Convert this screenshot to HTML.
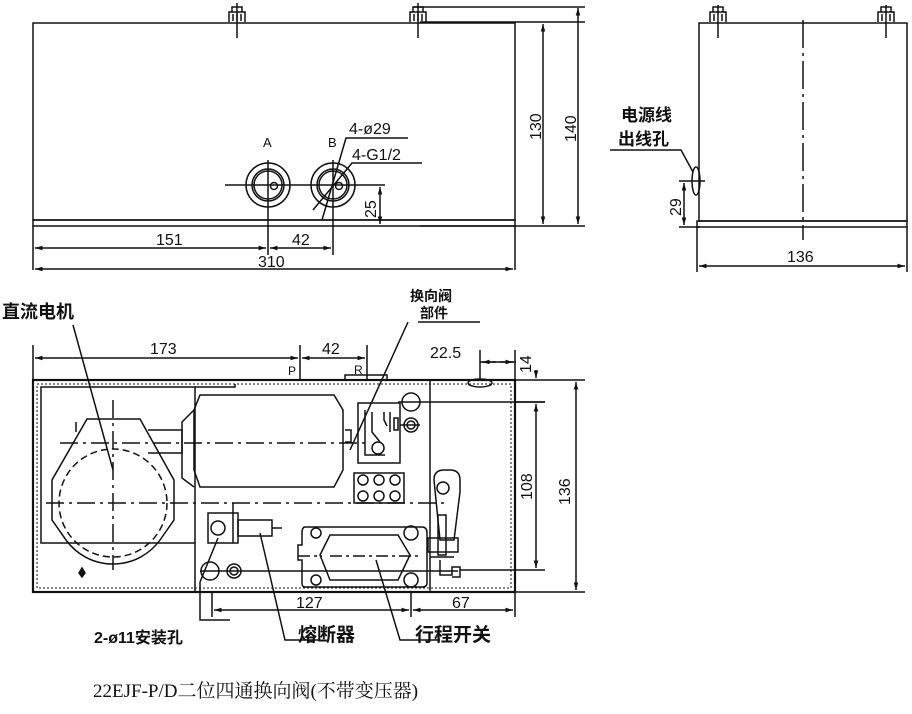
<!DOCTYPE html>
<html><head><meta charset="utf-8"><style>
html,body{margin:0;padding:0;background:#fff;}
svg{display:block}
text{font-family:"Liberation Sans","Noto Sans CJK SC",sans-serif;fill:#111}
</style></head><body>
<svg width="912" height="714" viewBox="0 0 912 714" xmlns="http://www.w3.org/2000/svg">
<defs>
<marker id="a" viewBox="0 0 10 10" refX="10" refY="5" markerWidth="7" markerHeight="5" orient="auto-start-reverse"><path d="M0,2 L10,5 L0,8z" fill="#111"/></marker>
</defs>
<g stroke="#111" stroke-width="1.5" fill="none">
<!-- TOP VIEW -->
<rect x="33" y="23" width="482" height="197"/>
<rect x="33" y="220" width="482" height="6"/>
<path d="M229,22 v-10 h16 v10 M232,12 v-5 h10 v5 M233,14 v7 M237,14 v7 M241,14 v7"/>
<path d="M410,22 v-10 h16 v10 M413,12 v-5 h10 v5 M414,14 v7 M418,14 v7 M422,14 v7"/>
<path d="M237,3 v35 M418,3 v35"/>
<circle cx="268" cy="185" r="22"/><circle cx="268" cy="185" r="16"/><circle cx="268" cy="185" r="14"/><circle cx="274" cy="186" r="3.5"/>
<circle cx="333" cy="185" r="22"/><circle cx="333" cy="185" r="16"/><circle cx="333" cy="185" r="14"/><circle cx="339" cy="186" r="3.5"/>
<path d="M225,185 H385 M268,160 V255 M333,160 V255"/>
<path d="M322,220 L346,138 H408 M313,210 L352,163 H422"/>
<path d="M33,226 v44 M515,226 v44 M420,226 h165 M420,22 h165 M515,22 h30"/>
<line x1="380" y1="187" x2="380" y2="224" marker-start="url(#a)" marker-end="url(#a)"/>
<line x1="543" y1="24" x2="543" y2="224" marker-start="url(#a)" marker-end="url(#a)"/>
<line x1="578" y1="8" x2="578" y2="224" marker-start="url(#a)" marker-end="url(#a)"/>
<path d="M413,7 H585"/>
<line x1="35" y1="248" x2="266" y2="248" marker-start="url(#a)" marker-end="url(#a)"/>
<line x1="270" y1="248" x2="331" y2="248" marker-start="url(#a)" marker-end="url(#a)"/>
<line x1="35" y1="269" x2="513" y2="269" marker-start="url(#a)" marker-end="url(#a)"/>
<!-- SIDE VIEW -->
<rect x="699" y="23" width="208" height="198"/>
<rect x="697" y="221" width="210" height="6"/>
<path d="M710,22 v-10 h16 v10 M713,12 v-5 h10 v5 M714,14 v7 M718,14 v7 M722,14 v7 M718,5 v33"/>
<path d="M878,22 v-10 h16 v10 M881,12 v-5 h10 v5 M882,14 v7 M886,14 v7 M890,14 v7 M886,5 v33"/>
<path d="M803,20 V240" stroke-dasharray="28,5,3,5"/>
<ellipse cx="696" cy="181" rx="4" ry="14"/>
<path d="M610,150 H681 L693,172 M679,181 H705 M679,227 H700 M697,227 v45 M907,227 v45"/>
<line x1="684" y1="183" x2="684" y2="225" marker-start="url(#a)" marker-end="url(#a)"/>
<line x1="699" y1="266" x2="905" y2="266" marker-start="url(#a)" marker-end="url(#a)"/>
<!-- BOTTOM VIEW -->
<rect x="33" y="380" width="482" height="212" stroke-width="2.2"/>
<rect x="37" y="384" width="474" height="204" stroke-width="1" stroke-dasharray="2,2"/>
<rect x="41" y="387" width="154" height="156"/>
<path d="M195,387 h40 v-3"/>
<path d="M345,380 v-5 h42 v5"/>
<path d="M200,395 H334 L343,410 V470 L334,487 H200 L194,470 V410Z"/>
<path d="M194,410 L182,422 V478 L194,487"/>
<path d="M148,430 h34 v23 h-34"/>
<path d="M76,422 V432 M87,419 H140 L174,480 V520 L160,540 A58 58 0 0 1 66,540 L52,520 V480 Z"/>
<circle cx="113" cy="503" r="54" stroke-dasharray="7,4"/>
<path d="M113,400 V570 M60,443 H367 M46,503 H448" stroke-dasharray="18,5,3,5"/>
<path d="M345,430 h6 v12 h-6"/>
<rect x="358" y="403" width="42" height="60"/>
<path d="M365,410 v45 h20 M372,412 v20 l8,10 M384,412 v8 l3,6 M390,412 v20"/>
<circle cx="378" cy="448" r="6"/>
<rect x="394" y="418" width="4" height="12"/>
<rect x="354" y="473" width="50" height="30"/>
<circle cx="363" cy="480" r="5"/><circle cx="379" cy="480" r="5"/><circle cx="395" cy="480" r="5"/>
<circle cx="363" cy="496" r="5"/><circle cx="379" cy="496" r="5"/><circle cx="395" cy="496" r="5"/>
<circle cx="411" cy="402" r="9"/><circle cx="411" cy="425" r="7"/><circle cx="411" cy="425" r="4"/>
<path d="M398,402 H545 M430,380 V592 M400,425 h20"/>
<path d="M195,543 V592 M233,503 V543"/>
<rect x="208" y="513" width="30" height="30"/>
<rect x="238" y="520" width="34" height="16"/>
<circle cx="218" cy="528" r="7"/>
<path d="M272,528 h10"/>
<path d="M305,527 H422 Q427,527 427,533 V583 Q427,587 422,587 H305 Q302,587 302,583 V560 H298 V545 H302 V533 Q302,527 305,527Z"/>
<path d="M330,535 H398 L410,555 L398,580 H330 L320,555Z"/>
<circle cx="316" cy="533" r="5"/><circle cx="316" cy="580" r="5"/>
<circle cx="411" cy="533" r="7"/><circle cx="411" cy="580" r="7"/>
<path d="M330,556 H420 M298,556 H322" stroke-dasharray="12,4,3,4"/>
<path d="M434,480 q0,-10 10,-10 h6 q10,0 10,10 v12 l-6,48 h-14z"/>
<circle cx="443" cy="488" r="6"/>
<rect x="428" y="538" width="30" height="14"/>
<rect x="438" y="515" width="8" height="40"/>
<path d="M430,557 h24 M440,560 v15 h12 v-8 h8 v10 h-8"/>
<circle cx="210" cy="571" r="9"/><circle cx="234" cy="571" r="7"/><circle cx="234" cy="571" r="4"/>
<path d="M200,571 H458"/>
<path d="M200,582 V620 H230 M218,538 L200,582"/>
<path d="M260,533 L285,640 H320"/>
<path d="M376,560 L400,640 H440"/>
<path d="M73,325 L113,470"/>
<path d="M418,322 H480 M408,322 L350,450"/>
<path d="M33,345 v35 M300,345 v35 M367,345 v35 M480,350 v30 M515,350 v30"/>
<line x1="35" y1="358" x2="298" y2="358" marker-start="url(#a)" marker-end="url(#a)"/>
<line x1="302" y1="358" x2="365" y2="358" marker-start="url(#a)" marker-end="url(#a)"/>
<line x1="496" y1="362" x2="482" y2="362" marker-end="url(#a)"/>
<line x1="500" y1="362" x2="513" y2="362" marker-end="url(#a)"/>
<path d="M480,362 h36"/>
<ellipse cx="480" cy="383" rx="12" ry="4"/>
<path d="M460,570 H545 M515,402 H545 M515,380 H585 M515,592 H585"/>
<line x1="536" y1="404" x2="536" y2="568" marker-start="url(#a)" marker-end="url(#a)"/>
<line x1="536" y1="370" x2="536" y2="378" marker-end="url(#a)"/>
<line x1="576" y1="382" x2="576" y2="590" marker-start="url(#a)" marker-end="url(#a)"/>
<path d="M212,592 v25 M411,592 v25 M515,592 v25"/>
<line x1="214" y1="610" x2="409" y2="610" marker-start="url(#a)" marker-end="url(#a)"/>
<line x1="413" y1="610" x2="513" y2="610" marker-start="url(#a)" marker-end="url(#a)"/>
<path d="M82,568 l-3,5 3,4 3,-4z" fill="#111"/>
</g>
<!-- TEXT -->
<g font-size="16">
<text x="263" y="147" font-size="13">A</text>
<text x="328" y="147" font-size="13">B</text>
<text x="349" y="134">4-ø29</text>
<text x="352" y="160">4-G1/2</text>
<text x="156" y="245">151</text>
<text x="292" y="245">42</text>
<text x="258" y="267">310</text>
<text transform="translate(376,218) rotate(-90)">25</text>
<text transform="translate(541,140) rotate(-90)">130</text>
<text transform="translate(576,142) rotate(-90)">140</text>
<text x="621" y="121" font-size="17" font-weight="bold">电源线</text>
<text x="618" y="145" font-size="17" font-weight="bold">出线孔</text>
<text transform="translate(681,216) rotate(-90)">29</text>
<text x="787" y="262">136</text>
<text x="2" y="318" font-size="18" font-weight="bold">直流电机</text>
<text x="410" y="301" font-size="14" font-weight="bold">换向阀</text>
<text x="420" y="318" font-size="14" font-weight="bold">部件</text>
<text x="150" y="354">173</text>
<text x="322" y="354">42</text>
<text x="288" y="375" font-size="12">P</text>
<text x="354" y="374" font-size="12">R</text>
<text x="430" y="358">22.5</text>
<text transform="translate(531,373) rotate(-90)">14</text>
<text transform="translate(532,500) rotate(-90)">108</text>
<text transform="translate(570,505) rotate(-90)">136</text>
<text x="296" y="608">127</text>
<text x="452" y="608">67</text>
<text x="94" y="643" font-size="16" font-weight="bold">2-ø11安装孔</text>
<text x="298" y="641" font-size="19" font-weight="bold">熔断器</text>
<text x="415" y="641" font-size="19" font-weight="bold">行程开关</text>
<text x="93" y="697" font-size="19" style="font-family:'Liberation Serif','Noto Serif CJK SC',serif">22EJF-P/D二位四通换向阀(不带变压器)</text>
</g>
</svg>
</body></html>
